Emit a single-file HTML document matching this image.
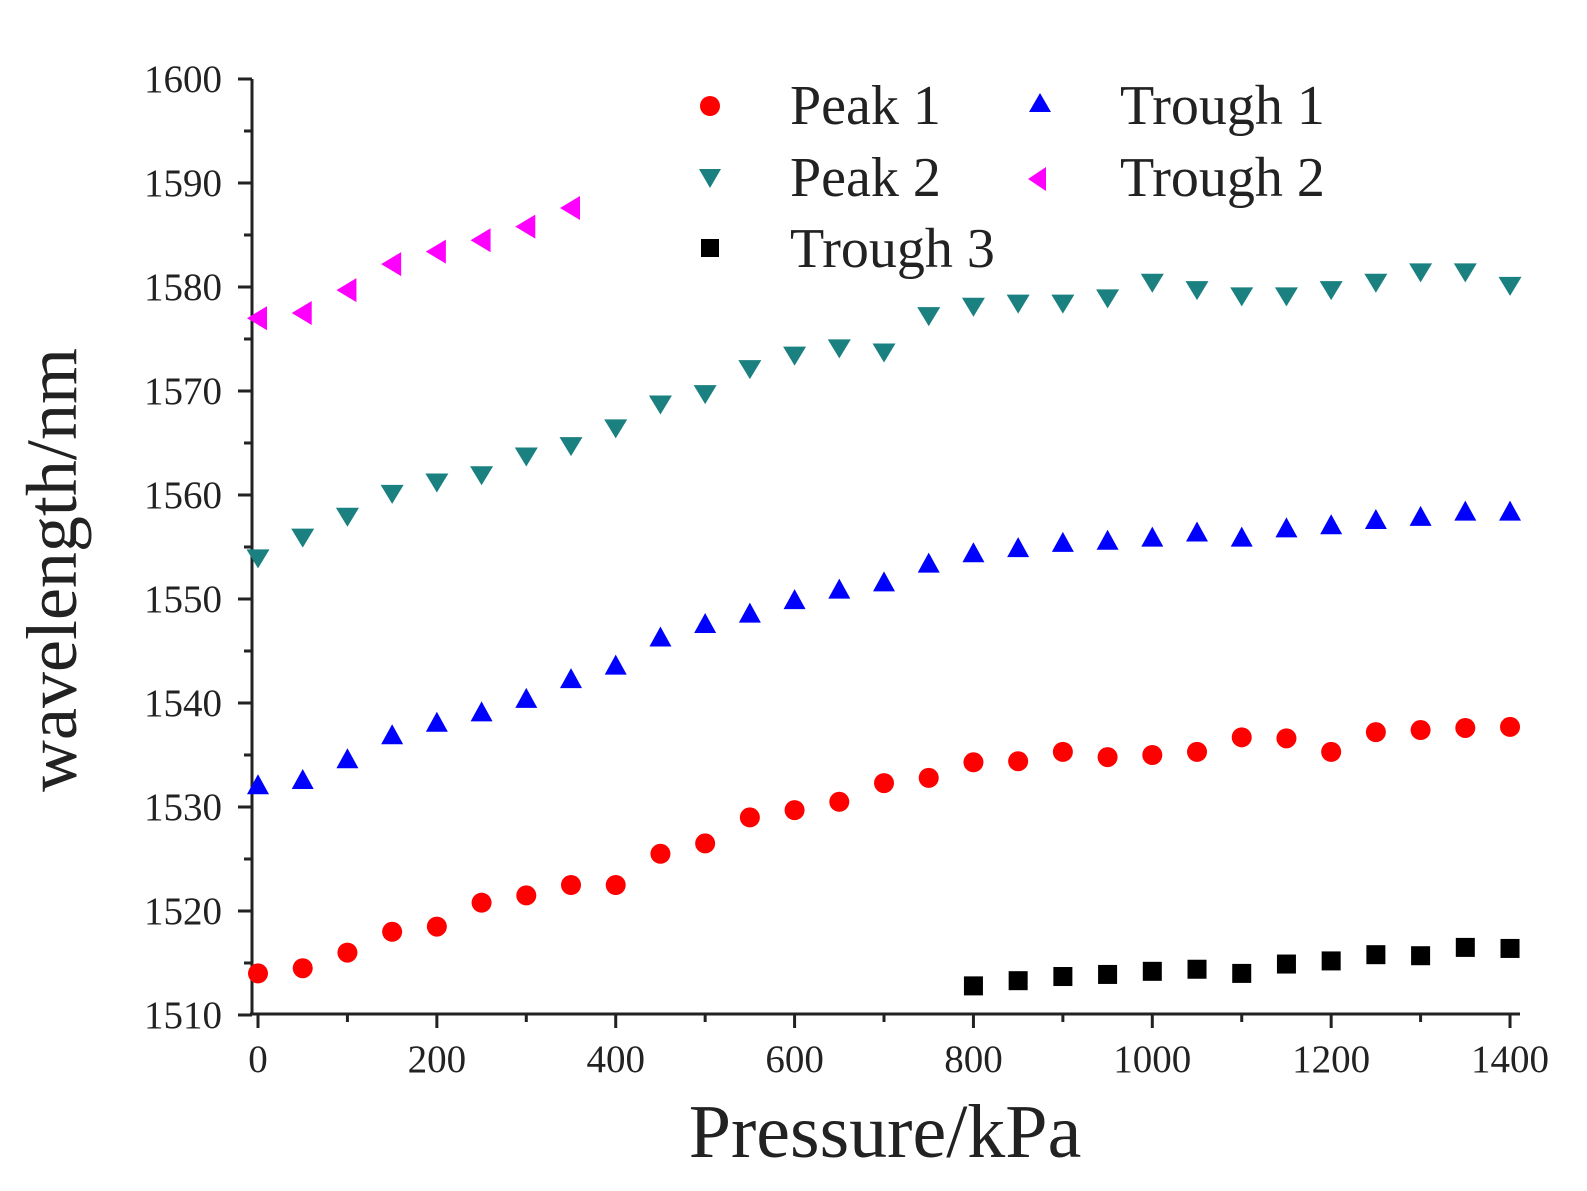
<!DOCTYPE html>
<html><head><meta charset="utf-8"><style>
html,body{margin:0;padding:0;background:#fff;}
svg{display:block;}
text{font-family:"Liberation Serif",serif;fill:#222;}
</style></head><body>
<svg id="s" width="1587" height="1191" xmlns="http://www.w3.org/2000/svg">
<g stroke="#222" stroke-width="3" fill="none">
<line x1="252" y1="79" x2="252" y2="1014"/>
<line x1="250" y1="1014" x2="1520" y2="1014"/>
</g>
<g id="ticks" stroke="#222" stroke-width="3"></g>
<g id="labels" font-size="39" text-anchor="end"></g>
<g id="xlabels" font-size="39" text-anchor="middle"></g>
<g id="pts"></g>
<text x="885" y="1157" font-size="76" text-anchor="middle">Pressure/kPa</text>
<text transform="translate(76,570) rotate(-90)" font-size="72" text-anchor="middle">wavelength/nm</text>
<g font-size="56">
<circle cx="710" cy="106" r="10" fill="#f00"/><text x="790" y="124">Peak 1</text>
<polygon points="1040,93 1051,112 1029,112" fill="#00f"/><text x="1120" y="124">Trough 1</text>
<polygon points="699,169 721,169 710,188" fill="#1a8080"/><text x="790" y="196">Peak 2</text>
<polygon points="1028,179 1046,167 1046,191" fill="#f0f"/><text x="1120" y="196">Trough 2</text>
<rect x="701" y="239" width="18" height="18" fill="#000"/><text x="790" y="267">Trough 3</text>
</g>
</svg>
<script>
var NS="http://www.w3.org/2000/svg";
function X(p){return 258+p*0.8943;}
function Y(v){return 79+(1600-v)*10.4;}
function el(t,a,par){var e=document.createElementNS(NS,t);for(var k in a)e.setAttribute(k,a[k]);document.getElementById(par).appendChild(e);return e;}
for(var v=1510;v<=1600;v+=5){var y=Y(v);el('line',{x1:(v%10==0?238:244),y1:y,x2:252,y2:y},'ticks');
 if(v%10==0){var t=el('text',{x:222,y:y+13},'labels');t.textContent=v;}}
for(var p=0;p<=1400;p+=100){var x=X(p);el('line',{x1:x,y1:1014,x2:x,y2:(p%200==0?1028:1022)},'ticks');
 if(p%200==0){var t=el('text',{x:x,y:1072},'xlabels');t.textContent=p;}}
var p1=[1514,1514.5,1516,1518,1518.5,1520.8,1521.5,1522.5,1522.5,1525.5,1526.5,1529,1529.7,1530.5,1532.3,1532.8,1534.3,1534.4,1535.3,1534.8,1535,1535.3,1536.7,1536.6,1535.3,1537.2,1537.4,1537.6,1537.7];
var t1=[1532,1532.5,1534.5,1536.8,1538,1539,1540.3,1542.2,1543.5,1546.2,1547.5,1548.5,1549.8,1550.8,1551.5,1553.3,1554.3,1554.8,1555.3,1555.5,1555.8,1556.3,1555.8,1556.7,1557,1557.5,1557.8,1558.3,1558.3];
var p2=[1554,1556,1558,1560.2,1561.3,1562,1563.8,1564.8,1566.5,1568.8,1569.8,1572.2,1573.5,1574.2,1573.8,1577.3,1578.2,1578.5,1578.5,1579,1580.5,1579.8,1579.2,1579.2,1579.8,1580.5,1581.5,1581.5,1580.2];
var t2=[1577,1577.5,1579.7,1582.2,1583.4,1584.5,1585.8,1587.6];
var t3=[1512.8,1513.3,1513.7,1513.9,1514.2,1514.4,1514,1514.9,1515.2,1515.8,1515.7,1516.5,1516.4];
p1.forEach(function(v,i){el('circle',{cx:X(i*50),cy:Y(v),r:10,fill:'#f00'},'pts');});
t1.forEach(function(v,i){var x=X(i*50),y=Y(v);el('polygon',{points:(x)+','+(y-12)+' '+(x+11)+','+(y+8)+' '+(x-11)+','+(y+8),fill:'#00f'},'pts');});
p2.forEach(function(v,i){var x=X(i*50),y=Y(v);el('polygon',{points:(x-11.5)+','+(y-8)+' '+(x+11.5)+','+(y-8)+' '+(x)+','+(y+11),fill:'#1a8080'},'pts');});
t2.forEach(function(v,i){var x=X(i*50),y=Y(v);el('polygon',{points:(x-11)+','+y+' '+(x+9)+','+(y-12)+' '+(x+9)+','+(y+12),fill:'#f0f'},'pts');});
t3.forEach(function(v,i){var x=X(800+i*50),y=Y(v);el('rect',{x:x-9.5,y:y-9.5,width:19,height:19,fill:'#000'},'pts');});
</script>
</body></html>
